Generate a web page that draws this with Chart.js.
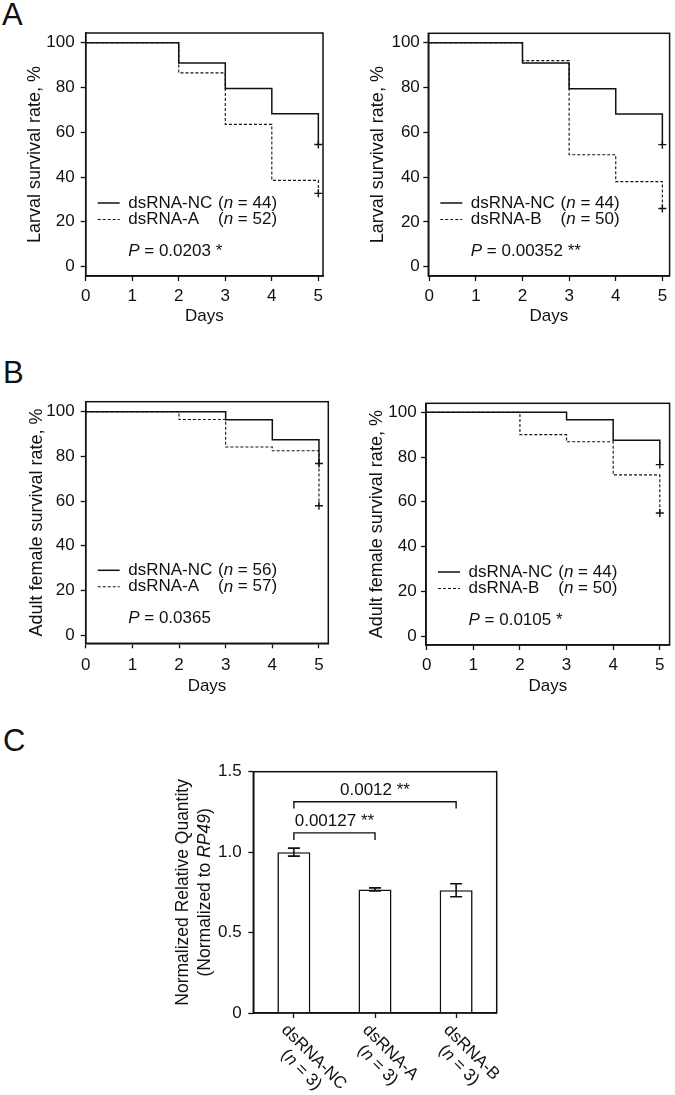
<!DOCTYPE html>
<html>
<head>
<meta charset="utf-8">
<script src="https://cdn.jsdelivr.net/npm/chart.js@4.4.1/dist/chart.umd.min.js"></script>
<style>
  body { margin: 0; background: #fff; }
  #fig { position: relative; width: 675px; height: 1095px; overflow: hidden; }
  .panel { position: absolute; }
  .tag { position: absolute; font: 31px/30px "Liberation Sans", Arial, sans-serif; color: #111; }
</style>
</head>
<body>
<div id="fig">
  <div class="tag" style="left:2px;top:0px">A</div>
  <div class="tag" style="left:3px;top:358px">B</div>
  <div class="tag" style="left:3px;top:726px">C</div>
  <div class="panel" style="left:0;top:0;width:340px;height:330px"><canvas id="a1"></canvas></div>
  <div class="panel" style="left:337px;top:0;width:338px;height:330px"><canvas id="a2"></canvas></div>
  <div class="panel" style="left:0;top:337px;width:340px;height:363px"><canvas id="b1"></canvas></div>
  <div class="panel" style="left:337px;top:337px;width:338px;height:363px"><canvas id="b2"></canvas></div>
  <div class="panel" style="left:0;top:700px;width:675px;height:395px"><canvas id="c"></canvas></div>
</div>
<script>
// survival curves (Kaplan-Meier steps), % alive at each day
const days = [0, 2, 3, 4, 5];
const larvaNC = [100, 90.9, 79.5, 68.2, 54.5];
const larvaA = [100, 86.5, 63.5, 38.5, 32.7];
const larvaB = [100, 92.0, 50.0, 38.0, 26.0];
const adultNC1 = [100, 100, 96.4, 87.5, 76.8];
const adultA = [100, 96.5, 84.2, 82.5, 57.9];
const adultNC2 = [100, 100, 96.6, 87.5, 76.6];
const adultB = [100, 90.0, 86.8, 72.0, 55.0];
const dayTicks = [0, 1, 2, 3, 4, 5];
const rateTicks = [0, 20, 40, 60, 80, 100];

// qPCR panel
const qpcrGroups = ['dsRNA-NC', 'dsRNA-A', 'dsRNA-B'];
const qpcrN = [3, 3, 3];
const qpcrMean = [1.0, 0.768, 0.763];
const qpcrErr = [0.025, 0.01, 0.04];
const qpcrTicks = [0, 0.5, 1.0, 1.5];
const sigBrackets = [
  { from: 0, to: 1, level: 1.12, foot: 1.075, label: '0.00127 **' },
  { from: 0, to: 2, level: 1.313, foot: 1.272, label: '0.0012 **' },
];

const FONT = '"Liberation Sans", Arial, Helvetica, sans-serif';
const INK = '#111';
Chart.defaults.font.family = FONT;
Chart.defaults.color = INK;

function rich(ctx, parts, x, y, size, align) {
  const widths = parts.map(p => {
    ctx.font = (p.i ? 'italic ' : '') + size + 'px ' + FONT;
    return ctx.measureText(p.t).width;
  });
  const total = widths.reduce((a, b) => a + b, 0);
  let cx = align === 'center' ? x - total / 2 : x;
  ctx.textAlign = 'left';
  parts.forEach((p, k) => {
    ctx.font = (p.i ? 'italic ' : '') + size + 'px ' + FONT;
    ctx.fillText(p.t, cx, y);
    cx += widths[k];
  });
  return total;
}

function frame(ctx, ca) {
  ctx.save();
  ctx.strokeStyle = INK;
  ctx.lineWidth = 1.5;
  ctx.strokeRect(ca.left, ca.top, ca.right - ca.left, ca.bottom - ca.top);
  ctx.restore();
}

function survivalChart(id, s) {
  const ds = (vals, dash, width) => ({
    data: days.map((d, i) => ({ x: d, y: vals[i] })),
    stepped: 'before',
    borderColor: INK,
    borderWidth: width,
    borderDash: dash,
    pointStyle: 'cross',
    pointRadius: vals.map((v, i) => (i === vals.length - 1 ? 4 : 0)),
    pointBorderWidth: 1.4,
    pointBorderColor: INK,
    fill: false,
  });

  const deco = {
    id: 'deco',
    afterDraw(chart) {
      const ctx = chart.ctx;
      const ca = chart.chartArea;
      frame(ctx, ca);
      ctx.save();
      ctx.fillStyle = INK;
      ctx.strokeStyle = INK;
      ctx.textBaseline = 'middle';
      ctx.font = '17px ' + FONT;
      const tx = ca.left + 42.5;
      const col = tx + ctx.measureText(s.names[0] + ' ').width + 1;
      s.names.forEach((name, k) => {
        const y = ca.bottom - 73 + k * 16.5;
        ctx.lineWidth = k ? 1.1 : 1.5;
        ctx.setLineDash(k ? [3, 2] : []);
        ctx.beginPath();
        ctx.moveTo(ca.left + 12, y);
        ctx.lineTo(ca.left + 34, y);
        ctx.stroke();
        ctx.font = '17px ' + FONT;
        ctx.fillText(name, tx, y);
        rich(ctx, [{ t: '(' }, { t: 'n', i: true }, { t: ' = ' + s.ns[k] + ')' }], col, y, 17);
      });
      rich(ctx, [{ t: 'P', i: true }, { t: ' = ' + s.p }], tx, ca.bottom - 25, 17);
      ctx.restore();
    }
  };

  new Chart(document.getElementById(id), {
    type: 'line',
    data: { datasets: [ds(s.nc, [], 1.5), ds(s.trt, [3, 2], 1.1)] },
    options: {
      responsive: true,
      maintainAspectRatio: false,
      animation: false,
      layout: { padding: { left: 0, top: s.top, right: s.right, bottom: 0 } },
      plugins: { legend: { display: false }, tooltip: { enabled: false } },
      scales: {
        x: {
          type: 'linear', min: s.xMin, max: s.xMax,
          afterBuildTicks: sc => { sc.ticks = dayTicks.map(v => ({ value: v })); },
          ticks: { padding: s.xPad, font: { size: 17 }, color: INK },
          grid: { drawOnChartArea: false, tickLength: 5, color: INK, tickWidth: 1.3 },
          border: { color: INK, width: 1.5 },
          title: { display: true, text: 'Days', font: { size: 17 }, color: INK, padding: { top: 0, bottom: 3 } },
          afterFit: sc => { sc.height = sc.chart.height - s.bottom; }
        },
        y: {
          type: 'linear', min: s.yMin, max: s.yMax,
          afterBuildTicks: sc => { sc.ticks = rateTicks.map(v => ({ value: v })); },
          ticks: { padding: s.yPad, font: { size: 17 }, color: INK },
          grid: { drawOnChartArea: false, tickLength: 5, color: INK, tickWidth: 1.3 },
          border: { color: INK, width: 1.5 },
          title: { display: true, text: s.yTitle, font: { size: 18 }, color: INK, padding: { top: s.yTitlePad, bottom: 0 } },
          afterFit: sc => { sc.width = s.left; }
        }
      }
    },
    plugins: [deco]
  });
}

survivalChart('a1', {
  nc: larvaNC, trt: larvaA, names: ['dsRNA-NC', 'dsRNA-A'], ns: [44, 52], p: '0.0203 *',
  yTitle: 'Larval survival rate, %',
  left: 85.7, top: 33, right: 17, bottom: 276,
  xMin: 0, xMax: 5.1, yMin: -4.2, yMax: 104.3,
  xPad: 5.5, yPad: 6, yTitlePad: 24.5
});
survivalChart('a2', {
  nc: larvaNC, trt: larvaB, names: ['dsRNA-NC', 'dsRNA-B'], ns: [44, 50], p: '0.00352 **',
  yTitle: 'Larval survival rate, %',
  left: 91.3, top: 33.3, right: 5, bottom: 276,
  xMin: -0.02, xMax: 5.155, yMin: -4.15, yMax: 104.2,
  xPad: 5.5, yPad: 3.5, yTitlePad: 30.2
});
survivalChart('b1', {
  nc: adultNC1, trt: adultA, names: ['dsRNA-NC', 'dsRNA-A'], ns: [56, 57], p: '0.0365',
  yTitle: 'Adult female survival rate, %',
  left: 85.7, top: 64.7, right: 11.7, bottom: 306.3,
  xMin: 0, xMax: 5.2, yMin: -3.7, yMax: 104.5,
  xPad: 6.5, yPad: 6, yTitlePad: 26.2
});
survivalChart('b2', {
  nc: adultNC2, trt: adultB, names: ['dsRNA-NC', 'dsRNA-B'], ns: [44, 50], p: '0.0105 *',
  yTitle: 'Adult female survival rate, %',
  left: 89, top: 66.3, right: 5, bottom: 308,
  xMin: -0.015, xMax: 5.21, yMin: -4.0, yMax: 104.0,
  xPad: 4.8, yPad: 4.3, yTitlePad: 28.9
});

// panel C: relative expression bars
const qpcrDeco = {
  id: 'qpcrDeco',
  afterDraw(chart) {
    const ctx = chart.ctx;
    const ca = chart.chartArea;
    const xs = chart.scales.x;
    const ys = chart.scales.y;
    frame(ctx, ca);
    ctx.save();
    ctx.strokeStyle = INK;
    ctx.fillStyle = INK;
    ctx.lineWidth = 1.6;
    // error bars
    qpcrMean.forEach((m, i) => {
      const x = xs.getPixelForValue(i);
      const top = ys.getPixelForValue(m + qpcrErr[i]);
      const bot = ys.getPixelForValue(m - qpcrErr[i]);
      ctx.beginPath();
      ctx.moveTo(x, top); ctx.lineTo(x, bot);
      ctx.moveTo(x - 6, top); ctx.lineTo(x + 6, top);
      ctx.moveTo(x - 6, bot); ctx.lineTo(x + 6, bot);
      ctx.stroke();
    });
    // significance brackets
    ctx.lineWidth = 1.4;
    ctx.textBaseline = 'middle';
    sigBrackets.forEach(b => {
      const x0 = xs.getPixelForValue(b.from);
      const x1 = xs.getPixelForValue(b.to);
      const y = ys.getPixelForValue(b.level);
      const yf = ys.getPixelForValue(b.foot);
      ctx.beginPath();
      ctx.moveTo(x0, yf); ctx.lineTo(x0, y); ctx.lineTo(x1, y); ctx.lineTo(x1, yf);
      ctx.stroke();
      ctx.font = '17px ' + FONT;
      ctx.textAlign = 'center';
      ctx.fillText(b.label, (x0 + x1) / 2, y - 11.5);
    });
    // rotated category labels
    qpcrGroups.forEach((g, i) => {
      const x = xs.getPixelForValue(i);
      ctx.save();
      ctx.translate(x - 9.7, ca.bottom + 14.4);
      ctx.rotate(Math.PI / 4);
      ctx.font = '17px ' + FONT;
      ctx.textAlign = 'left';
      ctx.fillText(g, 0, 0);
      const w = ctx.measureText(g).width;
      rich(ctx, [{ t: '(' }, { t: 'n', i: true }, { t: ' = ' + qpcrN[i] + ')' }], w / 2, 18, 17, 'center');
      ctx.restore();
    });
    // y title, two lines
    ctx.save();
    ctx.translate(ca.left, (ca.top + ca.bottom) / 2);
    ctx.rotate(-Math.PI / 2);
    rich(ctx, [{ t: 'Normalized Relative Quantity' }], 0, -70.3, 17.5, 'center');
    rich(ctx, [{ t: '(Normalized to ' }, { t: 'RP49', i: true }, { t: ')' }], 0, -48, 17.5, 'center');
    ctx.restore();
    ctx.restore();
  }
};

new Chart(document.getElementById('c'), {
  type: 'bar',
  data: {
    labels: qpcrGroups,
    datasets: [{
      data: qpcrMean,
      backgroundColor: '#fff',
      borderColor: INK,
      borderWidth: 1.6,
      barPercentage: 0.407,
      categoryPercentage: 1,
    }]
  },
  options: {
    responsive: true,
    maintainAspectRatio: false,
    animation: false,
    layout: { padding: { left: 0, top: 71.7, right: 178.3, bottom: 0 } },
    plugins: { legend: { display: false }, tooltip: { enabled: false } },
    scales: {
      x: {
        ticks: { display: false },
        grid: { offset: false, drawOnChartArea: false, tickLength: 5, color: INK, tickWidth: 1.3 },
        border: { color: INK, width: 1.5 },
        afterFit: sc => { sc.height = sc.chart.height - 313; }
      },
      y: {
        min: 0, max: 1.5,
        afterBuildTicks: sc => { sc.ticks = qpcrTicks.map(v => ({ value: v })); },
        ticks: { padding: 6.6, font: { size: 17 }, color: INK, callback: v => (v === 0 ? '0' : v.toFixed(1)) },
        grid: { drawOnChartArea: false, tickLength: 5, color: INK, tickWidth: 1.3 },
        border: { color: INK, width: 1.5 },
        afterFit: sc => { sc.width = 253.3; }
      }
    }
  },
  plugins: [qpcrDeco]
});
</script>
</body>
</html>
